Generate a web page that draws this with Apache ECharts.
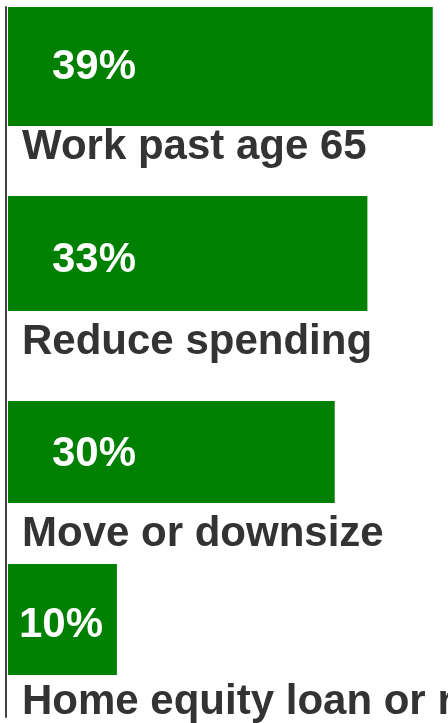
<!DOCTYPE html>
<html>
<head>
<meta charset="utf-8">
<script src="https://cdn.jsdelivr.net/npm/echarts@6/dist/echarts.min.js"></script>
<style>
html,body{margin:0;padding:0;background:#fff;}
#chart{width:448px;height:723px;}
</style>
</head>
<body>
<div id="chart"></div>
<script>
// ---- data ----
const categories = ['Work past age 65', 'Reduce spending', 'Move or downsize', 'Home equity loan or reverse mortgage'];
const values = [39, 33, 30, 10];
const valueLabels = ['39%', '33%', '30%', '10%'];

// ---- layout (pixels) ----
const barTops = [7, 196, 401, 564];
const barHeights = [119, 115, 102, 111];
const nameGaps = [21, 31, 31, 27];
const labelShift = [1, 7, 2, 6];
const axisMax = 40.4;
const FONT = "'Liberation Sans', Arial, sans-serif";

const grids = [], xAxes = [], yAxes = [], series = [];
categories.forEach((cat, i) => {
  grids.push({ left: 8, right: 0, top: barTops[i], height: barHeights[i], containLabel: false, outerBoundsMode: 'none' });
  xAxes.push({ gridIndex: i, type: 'value', min: 0, max: axisMax, show: false });
  yAxes.push({
    gridIndex: i, type: 'category', data: [cat], show: true,
    axisLine: { show: false }, axisTick: { show: false }, axisLabel: { show: false },
    splitLine: { show: false },
    name: cat, nameLocation: 'start', nameGap: nameGaps[i],
    nameTextStyle: {
      align: 'left', verticalAlign: 'middle', padding: [0, 0, 0, 14],
      fontFamily: FONT, fontWeight: 'bold', fontSize: 42, color: '#333333'
    }
  });
  series.push({
    type: 'bar', xAxisIndex: i, yAxisIndex: i,
    barWidth: '100%',
    data: [values[i]],
    itemStyle: { color: '#008000' },
    label: {
      show: true,
      position: [values[i] < 15 ? 11 : 44, '50%'],
      offset: [0, labelShift[i]],
      align: 'left', verticalAlign: 'middle',
      formatter: () => valueLabels[i],
      fontFamily: FONT, fontWeight: 'bold', fontSize: 42, color: '#ffffff'
    },
    silent: true
  });
});

// full-height vertical axis line
grids.push({ left: 6, top: 7, height: 710, width: 10, outerBoundsMode: 'none' });
xAxes.push({ gridIndex: 4, type: 'value', show: false });
yAxes.push({
  gridIndex: 4, type: 'value', show: true,
  axisLine: { show: true, lineStyle: { color: '#444444', width: 2 } },
  axisTick: { show: false }, axisLabel: { show: false }, splitLine: { show: false }
});

const chart = echarts.init(document.getElementById('chart'), null, { renderer: 'canvas' });
chart.setOption({
  animation: false,
  backgroundColor: '#ffffff',
  grid: grids,
  xAxis: xAxes,
  yAxis: yAxes,
  series: series
});
</script>
</body>
</html>
